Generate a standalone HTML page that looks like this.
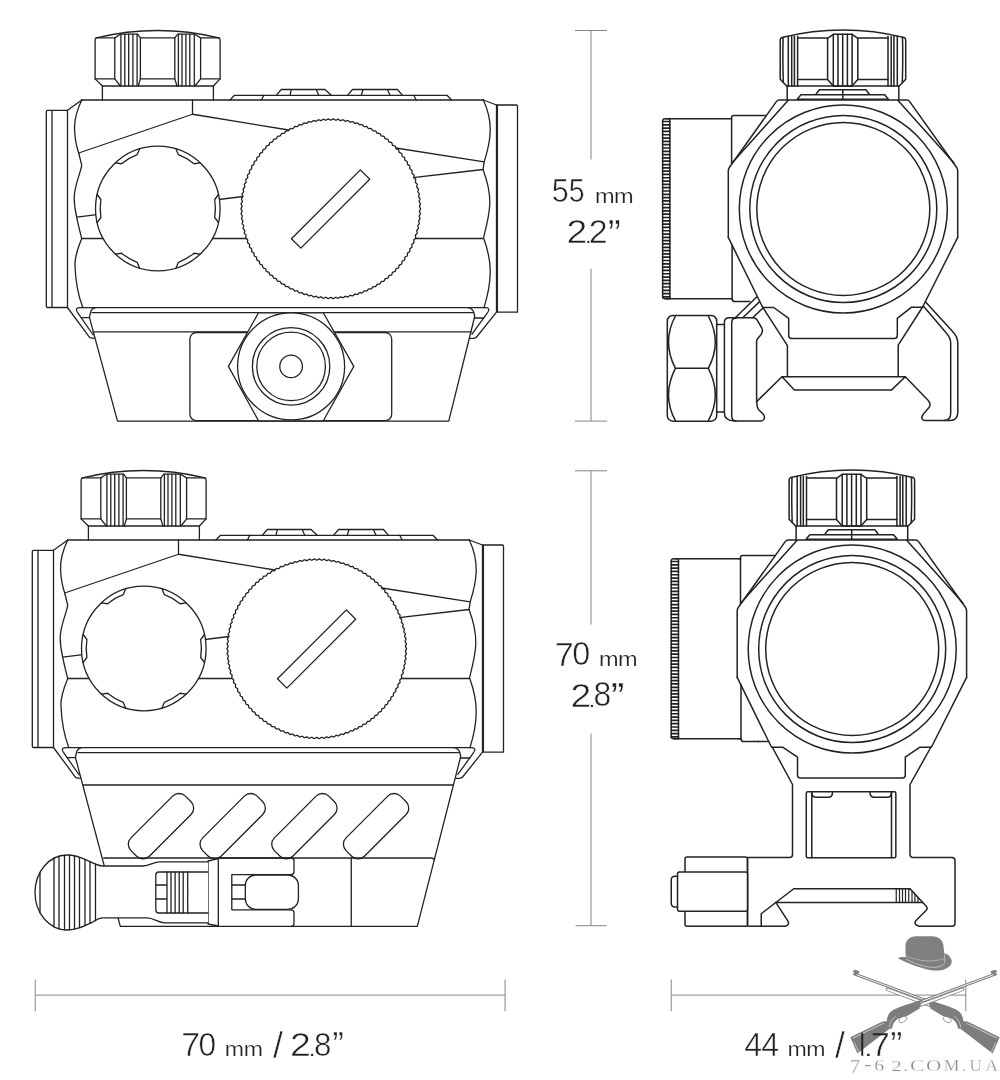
<!DOCTYPE html>
<html><head><meta charset="utf-8"><title>Dimensions</title>
<style>
html,body{margin:0;padding:0;background:#fff;}
body{width:1000px;height:1080px;overflow:hidden;font-family:"Liberation Sans",sans-serif;}
svg{display:block;}
.ln{fill:none;stroke:#222;stroke-width:1.45;stroke-linejoin:round;stroke-linecap:round;}
</style></head><body>
<svg width="1000" height="1080" viewBox="0 0 1000 1080">
<rect width="1000" height="1080" fill="#fff"/>
<defs>
<filter id="gs" x="-5%" y="-5%" width="110%" height="110%" color-interpolation-filters="sRGB"><feColorMatrix type="saturate" values="0"/></filter>
<g id="front">
<path d="M96.3,37.9 Q157.6,23.1 219,37.9"/>
<path d="M96.3,37.9 Q95.1,38.2 95.1,40 V78.9 L102.4,86 H213.4 L220.1,78.9 V40 Q220.1,38.2 219,37.9"/>
<path d="M96.3,37.9 H114.8 L120.3,34.2 H137.6 L140.4,37.9 H174.8 L177.8,34.2 H194.6 L200.6,37.9 H219"/>
<path d="M95.1,78.9 H114.8 L120.3,86 M138.3,86 L140.4,78.9 H174.8 L177,86 M195,86 L200.6,78.9 H220.1"/>
<path d="M114.8,37.9 V78.9 M200.6,37.9 V78.9 M140.4,37.9 V78.9 M174.8,37.9 V78.9"/>
<path d="M120.9,34.2 V86 M124.8,34.2 V86 M128.7,34.2 V86 M132.9,34.2 V86 M137.1,34.2 V86 M178.4,34.2 V86 M182,34.2 V86 M185.9,34.2 V86 M189.8,34.2 V86 M194.3,34.2 V86"/>
<path d="M102.4,86 V100 M213.4,86 V100"/>
<path d="M230,100 L234.5,95.3 H447 L451.5,100"/>
<path d="M261.5,100 L263.75,95.3 M413.75,95.3 L416.25,100"/>
<path d="M276.25,95.3 L281.25,89.5 H325 L331.25,95.3 M290,95.3 L291.25,89.8 M316.25,89.8 L318.75,95.3"/>
<path d="M347.5,95.3 L352.5,89.5 H397.5 L402.5,95.3 M361.25,95.3 L363,89.8 M387.5,89.8 L390,95.3"/>
<path d="M81.75,100 H483.3"/>
<path d="M81.75,100 L67.5,110.3"/>
<path d="M67.5,110.3 H47.5 Q46.3,110.3 46.3,111.5 V306.3 Q46.3,307.5 47.5,307.5 H67.5 V110.3 M52,110.3 V307.5"/>
<path d="M81.75,100 C77,110 74,120 74.6,130 C75,140 77,148 78.7,153 L81.75,165.3 C79.6,176 74.2,186 74.2,198 C74.2,206 75.5,212 76.7,217.2 C78,224 80,232 81.75,238.6 C77,250 74.5,258 75,266 C75.5,280 78,295 82.8,307.6"/>
<path d="M483.3,100 C488,110 490.5,120 490.2,131 C490,142 487,153 484.2,161.8 L483,169.5 C487,180 490,192 489.8,203.3 C489.6,215 486,228 483.5,237.8 C488,250 490.5,262 490.2,273 C490,285 487,298 484,307.6"/>
<path d="M483.3,100 L496.5,105"/>
<path d="M496.5,105 H516.3 Q517.5,105 517.5,106.2 V312.2 H496.5 Z M497.4,105 V312.2"/>
<path d="M82.8,307.6 H484"/>
<path d="M192.5,100 V114.25 L78.7,153 M192.5,114.25 L288.75,130"/>
<path d="M380,145.5 L484.2,161.8 M400,179.2 L483,169.5"/>
<path d="M76.7,217.2 L243,196.5 M81.75,238.5 H483.5"/>
<circle cx="157.8" cy="208.5" r="62.3" fill="#fff"/>
<path d="M218.50,194.49 L214.69,199.49 A57.60,57.60 0 0 1 214.69,217.51 L218.50,222.51"/>
<path d="M200.29,254.06 L194.05,253.26 A57.60,57.60 0 0 1 178.44,262.27 L176.01,268.08"/>
<path d="M139.59,268.08 L137.16,262.27 A57.60,57.60 0 0 1 121.55,253.26 L115.31,254.06"/>
<path d="M97.10,222.51 L100.91,217.51 A57.60,57.60 0 0 1 100.91,199.49 L97.10,194.49"/>
<path d="M115.31,162.94 L121.55,163.74 A57.60,57.60 0 0 1 137.16,154.73 L139.59,148.92"/>
<path d="M176.01,148.92 L178.44,154.73 A57.60,57.60 0 0 1 194.05,163.74 L200.29,162.94"/>
<path d="M420.55,208.75 L420.39,209.37 L419.99,209.98 L419.59,210.59 L419.42,211.19 L419.56,211.81 L419.92,212.44 L420.28,213.07 L420.41,213.70 L420.22,214.30 L419.79,214.89 L419.36,215.48 L419.15,216.07 L419.25,216.70 L419.59,217.35 L419.91,218.00 L420.00,218.63 L419.77,219.22 L419.31,219.79 L418.85,220.35 L418.61,220.93 L418.68,221.56 L418.98,222.23 L419.27,222.89 L419.33,223.53 L419.06,224.11 L418.57,224.65 L418.08,225.18 L417.80,225.75 L417.84,226.39 L418.10,227.07 L418.35,227.75 L418.38,228.39 L418.08,228.95 L417.56,229.47 L417.04,229.97 L416.74,230.52 L416.74,231.16 L416.96,231.85 L417.17,232.55 L417.16,233.18 L416.84,233.73 L416.29,234.22 L415.74,234.69 L415.41,235.23 L415.37,235.86 L415.56,236.56 L415.73,237.27 L415.68,237.91 L415.33,238.44 L414.76,238.89 L414.18,239.33 L413.82,239.85 L413.75,240.48 L413.89,241.19 L414.03,241.91 L413.95,242.54 L413.57,243.05 L412.97,243.47 L412.37,243.88 L411.98,244.38 L411.88,245.00 L411.98,245.72 L412.08,246.45 L411.96,247.07 L411.55,247.56 L410.93,247.95 L410.31,248.33 L409.89,248.80 L409.76,249.42 L409.82,250.14 L409.88,250.87 L409.73,251.49 L409.29,251.96 L408.65,252.31 L408.01,252.65 L407.57,253.10 L407.40,253.71 L407.42,254.44 L407.44,255.16 L407.25,255.78 L406.79,256.22 L406.13,256.53 L405.47,256.84 L405.01,257.26 L404.80,257.86 L404.79,258.59 L404.76,259.32 L404.55,259.92 L404.06,260.33 L403.39,260.61 L402.71,260.88 L402.22,261.28 L401.99,261.87 L401.93,262.59 L401.87,263.32 L401.61,263.91 L401.11,264.29 L400.42,264.53 L399.73,264.77 L399.22,265.14 L398.95,265.71 L398.86,266.43 L398.75,267.15 L398.47,267.73 L397.94,268.08 L397.24,268.29 L396.54,268.48 L396.01,268.82 L395.71,269.38 L395.57,270.10 L395.43,270.81 L395.12,271.37 L394.57,271.70 L393.86,271.86 L393.15,272.02 L392.60,272.33 L392.27,272.87 L392.10,273.57 L391.91,274.28 L391.57,274.82 L391.00,275.12 L390.29,275.24 L389.57,275.36 L389.00,275.64 L388.65,276.16 L388.43,276.86 L388.21,277.55 L387.84,278.07 L387.26,278.33 L386.53,278.42 L385.81,278.50 L385.23,278.75 L384.85,279.25 L384.59,279.93 L384.33,280.61 L383.93,281.11 L383.34,281.34 L382.61,281.39 L381.89,281.42 L381.29,281.64 L380.88,282.12 L380.59,282.79 L380.29,283.45 L379.87,283.93 L379.26,284.13 L378.53,284.13 L377.80,284.13 L377.20,284.32 L376.76,284.77 L376.44,285.42 L376.10,286.07 L375.65,286.52 L375.03,286.69 L374.31,286.65 L373.58,286.61 L372.97,286.76 L372.50,287.19 L372.14,287.82 L371.78,288.45 L371.30,288.87 L370.67,289.01 L369.95,288.93 L369.23,288.85 L368.61,288.97 L368.12,289.37 L367.72,289.98 L367.32,290.59 L366.82,290.99 L366.19,291.09 L365.47,290.97 L364.76,290.85 L364.13,290.93 L363.62,291.31 L363.19,291.89 L362.76,292.48 L362.24,292.85 L361.60,292.91 L360.89,292.76 L360.18,292.60 L359.55,292.64 L359.02,292.99 L358.56,293.56 L358.10,294.12 L357.56,294.46 L356.92,294.48 L356.22,294.29 L355.52,294.09 L354.89,294.10 L354.34,294.42 L353.85,294.96 L353.35,295.49 L352.79,295.80 L352.16,295.80 L351.47,295.56 L350.78,295.32 L350.15,295.30 L349.58,295.59 L349.07,296.10 L348.54,296.61 L347.97,296.88 L347.33,296.84 L346.65,296.57 L345.98,296.30 L345.35,296.24 L344.77,296.50 L344.23,296.98 L343.67,297.45 L343.08,297.70 L342.45,297.62 L341.79,297.31 L341.13,297.00 L340.51,296.91 L339.92,297.14 L339.35,297.59 L338.77,298.03 L338.17,298.24 L337.54,298.13 L336.89,297.79 L336.26,297.44 L335.64,297.32 L335.03,297.51 L334.44,297.92 L333.84,298.34 L333.22,298.52 L332.60,298.37 L331.98,297.99 L331.36,297.61 L330.75,297.45 L330.14,297.61 L329.52,297.99 L328.90,298.37 L328.28,298.52 L327.66,298.34 L327.06,297.92 L326.47,297.51 L325.86,297.32 L325.24,297.44 L324.61,297.79 L323.96,298.13 L323.33,298.24 L322.73,298.03 L322.15,297.59 L321.58,297.14 L320.99,296.91 L320.37,297.00 L319.71,297.31 L319.05,297.62 L318.42,297.70 L317.83,297.45 L317.27,296.98 L316.73,296.50 L316.15,296.24 L315.52,296.30 L314.85,296.57 L314.17,296.84 L313.53,296.88 L312.96,296.61 L312.43,296.10 L311.92,295.59 L311.35,295.30 L310.72,295.32 L310.03,295.56 L309.34,295.80 L308.71,295.80 L308.15,295.49 L307.65,294.96 L307.16,294.42 L306.61,294.10 L305.98,294.09 L305.28,294.29 L304.58,294.48 L303.94,294.46 L303.40,294.12 L302.94,293.56 L302.48,292.99 L301.95,292.64 L301.32,292.60 L300.61,292.76 L299.90,292.91 L299.26,292.85 L298.74,292.48 L298.31,291.89 L297.88,291.31 L297.37,290.93 L296.74,290.85 L296.03,290.97 L295.31,291.09 L294.68,290.99 L294.18,290.59 L293.78,289.98 L293.38,289.37 L292.89,288.97 L292.27,288.85 L291.55,288.93 L290.83,289.01 L290.20,288.87 L289.72,288.45 L289.36,287.82 L289.00,287.19 L288.53,286.76 L287.92,286.61 L287.19,286.65 L286.47,286.69 L285.85,286.52 L285.40,286.07 L285.06,285.42 L284.74,284.77 L284.30,284.32 L283.70,284.13 L282.97,284.13 L282.24,284.13 L281.63,283.93 L281.21,283.45 L280.91,282.79 L280.62,282.12 L280.21,281.64 L279.61,281.42 L278.89,281.39 L278.16,281.34 L277.57,281.11 L277.17,280.61 L276.91,279.93 L276.65,279.25 L276.27,278.75 L275.69,278.50 L274.97,278.42 L274.24,278.33 L273.66,278.07 L273.29,277.55 L273.07,276.86 L272.85,276.16 L272.50,275.64 L271.93,275.36 L271.21,275.24 L270.50,275.12 L269.93,274.82 L269.59,274.28 L269.40,273.57 L269.23,272.87 L268.90,272.33 L268.35,272.02 L267.64,271.86 L266.93,271.70 L266.38,271.37 L266.07,270.81 L265.93,270.10 L265.79,269.38 L265.49,268.82 L264.96,268.48 L264.26,268.29 L263.56,268.08 L263.03,267.73 L262.75,267.15 L262.64,266.43 L262.55,265.71 L262.28,265.14 L261.77,264.77 L261.08,264.53 L260.39,264.29 L259.89,263.91 L259.63,263.32 L259.57,262.59 L259.51,261.87 L259.28,261.28 L258.79,260.88 L258.11,260.61 L257.44,260.33 L256.95,259.92 L256.74,259.32 L256.71,258.59 L256.70,257.86 L256.49,257.26 L256.03,256.84 L255.37,256.53 L254.71,256.22 L254.25,255.78 L254.06,255.16 L254.08,254.44 L254.10,253.71 L253.93,253.10 L253.49,252.65 L252.85,252.31 L252.21,251.96 L251.77,251.49 L251.62,250.87 L251.68,250.14 L251.74,249.42 L251.61,248.80 L251.19,248.33 L250.57,247.95 L249.95,247.56 L249.54,247.07 L249.42,246.45 L249.52,245.72 L249.62,245.00 L249.52,244.38 L249.13,243.88 L248.53,243.47 L247.93,243.05 L247.55,242.54 L247.47,241.91 L247.61,241.19 L247.75,240.48 L247.68,239.85 L247.32,239.33 L246.74,238.89 L246.17,238.44 L245.82,237.91 L245.77,237.27 L245.94,236.56 L246.13,235.86 L246.09,235.23 L245.76,234.69 L245.21,234.22 L244.66,233.73 L244.34,233.18 L244.33,232.55 L244.54,231.85 L244.76,231.16 L244.76,230.52 L244.46,229.97 L243.94,229.47 L243.42,228.95 L243.12,228.39 L243.15,227.75 L243.40,227.07 L243.66,226.39 L243.70,225.75 L243.42,225.18 L242.93,224.65 L242.44,224.11 L242.17,223.53 L242.23,222.89 L242.52,222.23 L242.82,221.56 L242.89,220.93 L242.65,220.35 L242.19,219.79 L241.73,219.22 L241.50,218.63 L241.59,218.00 L241.91,217.35 L242.25,216.70 L242.35,216.07 L242.14,215.48 L241.71,214.89 L241.28,214.30 L241.09,213.70 L241.22,213.07 L241.58,212.44 L241.94,211.81 L242.08,211.19 L241.91,210.59 L241.51,209.98 L241.11,209.37 L240.95,208.75 L241.11,208.13 L241.51,207.52 L241.91,206.91 L242.08,206.31 L241.94,205.69 L241.58,205.06 L241.22,204.43 L241.09,203.80 L241.28,203.20 L241.71,202.61 L242.14,202.02 L242.35,201.43 L242.25,200.80 L241.91,200.15 L241.59,199.50 L241.50,198.87 L241.73,198.28 L242.19,197.71 L242.65,197.15 L242.89,196.57 L242.82,195.94 L242.52,195.27 L242.23,194.61 L242.17,193.97 L242.44,193.39 L242.93,192.85 L243.42,192.32 L243.70,191.75 L243.66,191.11 L243.40,190.43 L243.15,189.75 L243.12,189.11 L243.42,188.55 L243.94,188.03 L244.46,187.53 L244.76,186.98 L244.76,186.34 L244.54,185.65 L244.33,184.95 L244.34,184.32 L244.66,183.77 L245.21,183.28 L245.76,182.81 L246.09,182.27 L246.13,181.64 L245.94,180.94 L245.77,180.23 L245.82,179.59 L246.17,179.06 L246.74,178.61 L247.32,178.17 L247.68,177.65 L247.75,177.02 L247.61,176.31 L247.47,175.59 L247.55,174.96 L247.93,174.45 L248.53,174.03 L249.13,173.62 L249.52,173.12 L249.62,172.50 L249.52,171.78 L249.42,171.05 L249.54,170.43 L249.95,169.94 L250.57,169.55 L251.19,169.17 L251.61,168.70 L251.74,168.08 L251.68,167.36 L251.62,166.63 L251.77,166.01 L252.21,165.54 L252.85,165.19 L253.49,164.85 L253.93,164.40 L254.10,163.79 L254.08,163.06 L254.06,162.34 L254.25,161.72 L254.71,161.28 L255.37,160.97 L256.03,160.66 L256.49,160.24 L256.70,159.64 L256.71,158.91 L256.74,158.18 L256.95,157.58 L257.44,157.17 L258.11,156.89 L258.79,156.62 L259.28,156.22 L259.51,155.63 L259.57,154.91 L259.63,154.18 L259.89,153.59 L260.39,153.21 L261.08,152.97 L261.77,152.73 L262.28,152.36 L262.55,151.79 L262.64,151.07 L262.75,150.35 L263.03,149.77 L263.56,149.42 L264.26,149.21 L264.96,149.02 L265.49,148.68 L265.79,148.12 L265.93,147.40 L266.07,146.69 L266.38,146.13 L266.93,145.80 L267.64,145.64 L268.35,145.48 L268.90,145.17 L269.23,144.63 L269.40,143.93 L269.59,143.22 L269.93,142.68 L270.50,142.38 L271.21,142.26 L271.93,142.14 L272.50,141.86 L272.85,141.34 L273.07,140.64 L273.29,139.95 L273.66,139.43 L274.24,139.17 L274.97,139.08 L275.69,139.00 L276.27,138.75 L276.65,138.25 L276.91,137.57 L277.17,136.89 L277.57,136.39 L278.16,136.16 L278.89,136.11 L279.61,136.08 L280.21,135.86 L280.62,135.38 L280.91,134.71 L281.21,134.05 L281.63,133.57 L282.24,133.37 L282.97,133.37 L283.70,133.37 L284.30,133.18 L284.74,132.73 L285.06,132.08 L285.40,131.43 L285.85,130.98 L286.47,130.81 L287.19,130.85 L287.92,130.89 L288.53,130.74 L289.00,130.31 L289.36,129.68 L289.72,129.05 L290.20,128.63 L290.83,128.49 L291.55,128.57 L292.27,128.65 L292.89,128.53 L293.38,128.13 L293.78,127.52 L294.18,126.91 L294.68,126.51 L295.31,126.41 L296.03,126.53 L296.74,126.65 L297.37,126.57 L297.88,126.19 L298.31,125.61 L298.74,125.02 L299.26,124.65 L299.90,124.59 L300.61,124.74 L301.32,124.90 L301.95,124.86 L302.48,124.51 L302.94,123.94 L303.40,123.38 L303.94,123.04 L304.58,123.02 L305.28,123.21 L305.98,123.41 L306.61,123.40 L307.16,123.08 L307.65,122.54 L308.15,122.01 L308.71,121.70 L309.34,121.70 L310.03,121.94 L310.72,122.18 L311.35,122.20 L311.92,121.91 L312.43,121.40 L312.96,120.89 L313.53,120.62 L314.17,120.66 L314.85,120.93 L315.52,121.20 L316.15,121.26 L316.73,121.00 L317.27,120.52 L317.83,120.05 L318.42,119.80 L319.05,119.88 L319.71,120.19 L320.37,120.50 L320.99,120.59 L321.58,120.36 L322.15,119.91 L322.73,119.47 L323.33,119.26 L323.96,119.37 L324.61,119.71 L325.24,120.06 L325.86,120.18 L326.47,119.99 L327.06,119.58 L327.66,119.16 L328.28,118.98 L328.90,119.13 L329.52,119.51 L330.14,119.89 L330.75,120.05 L331.36,119.89 L331.98,119.51 L332.60,119.13 L333.22,118.98 L333.84,119.16 L334.44,119.58 L335.03,119.99 L335.64,120.18 L336.26,120.06 L336.89,119.71 L337.54,119.37 L338.17,119.26 L338.77,119.47 L339.35,119.91 L339.92,120.36 L340.51,120.59 L341.13,120.50 L341.79,120.19 L342.45,119.88 L343.08,119.80 L343.67,120.05 L344.23,120.52 L344.77,121.00 L345.35,121.26 L345.98,121.20 L346.65,120.93 L347.33,120.66 L347.97,120.62 L348.54,120.89 L349.07,121.40 L349.58,121.91 L350.15,122.20 L350.78,122.18 L351.47,121.94 L352.16,121.70 L352.79,121.70 L353.35,122.01 L353.85,122.54 L354.34,123.08 L354.89,123.40 L355.52,123.41 L356.22,123.21 L356.92,123.02 L357.56,123.04 L358.10,123.38 L358.56,123.94 L359.02,124.51 L359.55,124.86 L360.18,124.90 L360.89,124.74 L361.60,124.59 L362.24,124.65 L362.76,125.02 L363.19,125.61 L363.62,126.19 L364.13,126.57 L364.76,126.65 L365.47,126.53 L366.19,126.41 L366.82,126.51 L367.32,126.91 L367.72,127.52 L368.12,128.13 L368.61,128.53 L369.23,128.65 L369.95,128.57 L370.67,128.49 L371.30,128.63 L371.78,129.05 L372.14,129.68 L372.50,130.31 L372.97,130.74 L373.58,130.89 L374.31,130.85 L375.03,130.81 L375.65,130.98 L376.10,131.43 L376.44,132.08 L376.76,132.73 L377.20,133.18 L377.80,133.37 L378.53,133.37 L379.26,133.37 L379.87,133.57 L380.29,134.05 L380.59,134.71 L380.88,135.38 L381.29,135.86 L381.89,136.08 L382.61,136.11 L383.34,136.16 L383.93,136.39 L384.33,136.89 L384.59,137.57 L384.85,138.25 L385.23,138.75 L385.81,139.00 L386.53,139.08 L387.26,139.17 L387.84,139.43 L388.21,139.95 L388.43,140.64 L388.65,141.34 L389.00,141.86 L389.57,142.14 L390.29,142.26 L391.00,142.38 L391.57,142.68 L391.91,143.22 L392.10,143.93 L392.27,144.63 L392.60,145.17 L393.15,145.48 L393.86,145.64 L394.57,145.80 L395.12,146.13 L395.43,146.69 L395.57,147.40 L395.71,148.12 L396.01,148.68 L396.54,149.02 L397.24,149.21 L397.94,149.42 L398.47,149.77 L398.75,150.35 L398.86,151.07 L398.95,151.79 L399.22,152.36 L399.73,152.73 L400.42,152.97 L401.11,153.21 L401.61,153.59 L401.87,154.18 L401.93,154.91 L401.99,155.63 L402.22,156.22 L402.71,156.62 L403.39,156.89 L404.06,157.17 L404.55,157.58 L404.76,158.18 L404.79,158.91 L404.80,159.64 L405.01,160.24 L405.47,160.66 L406.13,160.97 L406.79,161.28 L407.25,161.72 L407.44,162.34 L407.42,163.06 L407.40,163.79 L407.57,164.40 L408.01,164.85 L408.65,165.19 L409.29,165.54 L409.73,166.01 L409.88,166.63 L409.82,167.36 L409.76,168.08 L409.89,168.70 L410.31,169.17 L410.93,169.55 L411.55,169.94 L411.96,170.43 L412.08,171.05 L411.98,171.78 L411.88,172.50 L411.98,173.12 L412.37,173.62 L412.97,174.03 L413.57,174.45 L413.95,174.96 L414.03,175.59 L413.89,176.31 L413.75,177.02 L413.82,177.65 L414.18,178.17 L414.76,178.61 L415.33,179.06 L415.68,179.59 L415.73,180.23 L415.56,180.94 L415.37,181.64 L415.41,182.27 L415.74,182.81 L416.29,183.28 L416.84,183.77 L417.16,184.32 L417.17,184.95 L416.96,185.65 L416.74,186.34 L416.74,186.98 L417.04,187.53 L417.56,188.03 L418.08,188.55 L418.38,189.11 L418.35,189.75 L418.10,190.43 L417.84,191.11 L417.80,191.75 L418.08,192.32 L418.57,192.85 L419.06,193.39 L419.33,193.97 L419.27,194.61 L418.98,195.27 L418.68,195.94 L418.61,196.57 L418.85,197.15 L419.31,197.71 L419.77,198.28 L420.00,198.87 L419.91,199.50 L419.59,200.15 L419.25,200.80 L419.15,201.43 L419.36,202.02 L419.79,202.61 L420.22,203.20 L420.41,203.80 L420.28,204.43 L419.92,205.06 L419.56,205.69 L419.42,206.31 L419.59,206.91 L419.99,207.52 L420.39,208.13 L420.55,208.75Z" fill="#fff"/>
<rect x="-48.7" y="-6.65" width="97.4" height="13.3" transform="translate(330.6,209) rotate(-45)"/>
</g>
<g id="clamps">
<path d="M67.5,307.5 L89,336.6 Q90,338.2 92,338.2 H94.5"/>
<path d="M82.8,307.6 H80 Q75.6,307.6 76.6,310.6 Q77,311.8 78,313.2 L93.2,335"/>
<path d="M81.3,317.6 H89.5"/>
<path d="M496.5,312.2 L477,336.5 Q475.6,338.4 473.5,338.4 H470.3"/>
<path d="M484,307.6 H485.5 Q489.6,307.6 488.6,310.6 Q488.2,311.8 487.2,313.2 L472,334.2"/>
<path d="M474.6,318 H483.6"/>
</g>
<g id="side">
<path d="M728.3,237.4 V171 Q728.3,169 729.5,167.3 L776.3,101.6 Q777.4,100 779.4,100 H906.6 Q908.6,100 909.7,101.6 L956.5,167.3 Q957.7,169 957.7,171 V237.4"/>
<path d="M728.3,237.4 L762.5,307 M957.7,237.4 L922.6,307"/>
<path d="M788,100.4 L732,163.1 M898,100.4 L954,163.1"/>
<path d="M731.6,163.5 V117.4 Q731.6,115.4 733.6,115.4 H766.2"/>
<path d="M732.1,244.8 V298.7 Q732.1,301.6 735,301.6 H749.7"/>
<circle cx="843.3" cy="209" r="104"/>
<circle cx="843.3" cy="209" r="93.5"/>
<circle cx="843.3" cy="209" r="86.5"/>
<path d="M782,37.5 Q843,22.7 904,37.5"/>
<path d="M782,37.5 Q780.2,38 780.2,40 V79.3 L786.7,86 H899.3 L905.7,79.3 V40 Q905.7,38 904,37.5"/>
<path d="M783.1,37.6 Q782.5,58 783.3,82.6 M902.5,37.6 Q903.1,58 902.3,82.6"/>
<path d="M788.3,36.2 V86 M791.7,36.2 V86 M794.4,36.2 V86 M797.6,36.2 V86 M888,36.2 V86 M891.2,36.2 V86 M893.9,36.2 V86 M897.3,36.2 V86"/>
<path d="M797.6,38 H827.6 M797.6,79.4 H827.6 M857.8,38 H888 M857.8,79.4 H888"/>
<path d="M827.6,38.3 L833.3,34.3 H852.1 L857.8,38.3 V79.4 L852.1,85.9 H833.3 L827.6,79.4 Z"/>
<path d="M833.3,34.3 V85.9 M838,34.3 V85.9 M842.7,34.3 V85.9 M847.4,34.3 V85.9 M852.1,34.3 V85.9"/>
<path d="M787.2,86 V100 M898.8,86 V100"/>
<path d="M797.2,99.2 L800.9,94.7 H884.7 L888.4,99.2 Z M815.6,94.7 L819.4,89.8 H866 L869.6,94.7 M842.8,89.8 V99.6"/>
</g>
<g id="cyl">
<path d="M666,118.8 H731.6 M666,298.7 H732.1" stroke-width="1.5"/>
<path d="M669.85,118.8 H665 Q662.65,118.8 662.65,121 V296.5 Q662.65,298.7 665,298.7 H669.85 Z"/>
<path d="M662.65,121.50 H669.85 M662.65,124.81 H669.85 M662.65,128.12 H669.85 M662.65,131.43 H669.85 M662.65,134.74 H669.85 M662.65,138.05 H669.85 M662.65,141.36 H669.85 M662.65,144.67 H669.85 M662.65,147.98 H669.85 M662.65,151.29 H669.85 M662.65,154.60 H669.85 M662.65,157.91 H669.85 M662.65,161.22 H669.85 M662.65,164.53 H669.85 M662.65,167.84 H669.85 M662.65,171.15 H669.85 M662.65,174.46 H669.85 M662.65,177.77 H669.85 M662.65,181.08 H669.85 M662.65,184.39 H669.85 M662.65,187.70 H669.85 M662.65,191.01 H669.85 M662.65,194.32 H669.85 M662.65,197.63 H669.85 M662.65,200.94 H669.85 M662.65,204.25 H669.85 M662.65,207.56 H669.85 M662.65,210.87 H669.85 M662.65,214.18 H669.85 M662.65,217.49 H669.85 M662.65,220.80 H669.85 M662.65,224.11 H669.85 M662.65,227.42 H669.85 M662.65,230.73 H669.85 M662.65,234.04 H669.85 M662.65,237.35 H669.85 M662.65,240.66 H669.85 M662.65,243.97 H669.85 M662.65,247.28 H669.85 M662.65,250.59 H669.85 M662.65,253.90 H669.85 M662.65,257.21 H669.85 M662.65,260.52 H669.85 M662.65,263.83 H669.85 M662.65,267.14 H669.85 M662.65,270.45 H669.85 M662.65,273.76 H669.85 M662.65,277.07 H669.85 M662.65,280.38 H669.85 M662.65,283.69 H669.85 M662.65,287.00 H669.85 M662.65,290.31 H669.85 M662.65,293.62 H669.85 M662.65,296.93 H669.85" stroke-width="1.7"/>
</g>
</defs>
<g stroke="#868686" stroke-width="1" fill="none">
<path d="M575,30.5 H607 M591,30.5 V159.5 M591,268.7 V421 M575,421.1 H607.2"/>
<path d="M575,470.8 H607 M591,470.8 V624.5 M591,733.7 V925.7 M575.5,925.7 H606.8"/>
<path d="M35.2,995.1 H505.1 M35.2,979.5 V1011.3 M505.1,979.5 V1011.3"/>
<path d="M671.2,995.1 H965.8 M671.2,979.5 V1011.3 M965.8,979.5 V1011.3"/>
</g>
<g class="ln" stroke-width="1.3" style="stroke-width:1.3">
<use href="#front"/>
<path d="M67.5,307.5 L89,336.6 Q90,338.2 92,338.2 H94.5"/>
<path d="M82.8,307.6 H80 Q75.6,307.6 76.6,310.6 Q77,311.8 78,313.2 L93.2,335"/>
<path d="M81.3,317.6 H89.5"/>
<path d="M496.5,312.2 L477,336.5 Q475.6,338.4 473.5,338.4 H470.3"/>
<path d="M484,307.6 H485.5 Q489.6,307.6 488.6,310.6 Q488.2,311.8 487.2,313.2 L472,334.2"/>
<path d="M474.6,318 H483.6"/>
<path d="M95.5,307.6 Q91,308.5 90.3,313.5 L89.4,317.3 L117.5,421.2 H448.75 L474.7,316.5 L474,313 Q473,308.5 468,307.6"/>
<path d="M92,312.6 H473"/>
<path d="M93.3,331.8 H471"/>
<rect x="189.9" y="332.5" width="201.8" height="88.2" rx="6.5" fill="#fff"/>
<path d="M228.4,366.4 L258.5,312.8 H323.3 L353.8,366.4 L323.3,420.8 H258.5 Z" fill="#fff"/>
<circle cx="291.1" cy="366.4" r="53.5" fill="#fff"/>
<circle cx="291.1" cy="366.4" r="38.7" fill="#fff"/>
<circle cx="291.1" cy="366.4" r="34.3" fill="#fff"/>
<circle cx="291.1" cy="366.4" r="11.3" fill="#fff"/>
<use href="#front" transform="translate(-14,440)"/>
<use href="#clamps" transform="translate(-14,440)"/>
<path d="M81.5,747.6 Q77,748.5 76.3,753.5 L75.4,757.3 L120.3,926.4 H417.3 L460.7,756.5 L460,753 Q459,748.5 454,747.6"/>
<path d="M78,752.6 H459 M83,785 H453.5"/>
<path d="M103.75,858 H431 Q433.5,858 434.6,860"/>
<rect x="-38.5" y="-13" width="77" height="26" rx="9" transform="translate(161,826.2) rotate(-45)"/>
<rect x="-38.5" y="-13" width="77" height="26" rx="9" transform="translate(232.7,826.2) rotate(-45)"/>
<rect x="-38.5" y="-13" width="77" height="26" rx="9" transform="translate(304.4,826.2) rotate(-45)"/>
<rect x="-38.5" y="-13" width="77" height="26" rx="9" transform="translate(376.1,826.2) rotate(-45)"/>
<path d="M351.25,858 V926.4 M218.3,858 V926.4 M208,861 V924 M208,861 L218.3,858.6 M208,924 L218.3,926"/>
<path d="M218.3,858 H291 Q294,858 294,861 V871.5 Q294,874.6 291,874.6 H231.8 V909.8 H291 Q294,909.8 294,912.8 V923.4 Q294,926.4 291,926.4"/>
<rect x="245.3" y="875" width="53.1" height="34.3" rx="10.5" fill="#fff"/>
<path d="M231.8,885 H245.6 M231.8,899 H245.6"/>
<path d="M208,861.8 H160 C153,861.8 150,866 143,866 H102 C97,865.5 94,863.4 90,861.6 C84,859 78,855 67,855 A32,37.5 0 0 0 67,930 C78,930 84,926 90,923.4 C94,921.6 97,918.3 102,917.8 H147 C154,917.8 158,922.8 165,922.8 H208" fill="#fff"/>
<path d="M40,872.37 V912.63 M54,858.23 V926.77 M59,856.19 V928.81 M64.5,855.11 V929.89 M69.5,855.10 V929.90 M74.5,855.90 V929.10 M79.5,857.40 V927.60 M85,859.40 V925.60 M90,861.60 V923.40 M95.5,864.20 V920.80"/>
<path d="M208,872 H158.8 Q155.8,872 155.8,875 V910 Q155.8,913 158.8,913 H208"/>
<path d="M167,872 V913 M171,872 V913 M175.1,872 V913 M179.2,872 V913 M183.2,872 V913 M187.7,872 V913 M155.8,885 H167 M155.8,899 H167"/>
</g>
<g class="ln" style="stroke-width:1.5">
<use href="#cyl"/>
<use href="#side"/>
<path d="M762.5,307 L787.4,345.6 V376.6 M922.6,307 L898.2,345.2 V376.6"/>
<path d="M762.8,307.5 H773.7 L788.7,318.4 V335.5 Q788.7,338.5 791.7,338.5 H894.3 Q897.3,338.5 897.3,335.5 V318.4 L911.3,307.3 H922.4"/>
<path d="M782,376.8 H905.3 M794.4,389.9 H891.7 M782,376.8 L794.4,389.9 M905.3,376.8 L891.7,389.9"/>
<path d="M782,376.8 L756.6,401.6"/>
<path d="M734.5,420.9 Q724.4,420.9 724.4,413 V322.5 Q724.4,317.7 729.2,317.7 H753.2 Q755.5,317.7 757,319.8 L761.8,328 Q763.3,331 761.3,334.2 L757.2,339.2 Q756.6,340 756.6,341.5 V401.6 L757.4,407 Q757.8,408.6 759,410 L763.5,414.6 Q765.2,417 763.8,419.5 Q763,420.9 761,420.9 H734.5"/>
<path d="M736,420.9 Q731.7,420.9 731.7,416 V322.5 Q731.7,317.9 736.2,317.9"/>
<path d="M735.3,317.7 L756.9,296.7 M742.8,317.7 L759.6,301.6 M752.6,317.7 L763,308"/>
<path d="M925.4,301.7 L952.6,331.5 Q957.8,337 957.8,343 V411.9 Q957.8,420.4 950,420.4"/>
<path d="M923.5,306.2 L946.1,332.8 Q950.7,338 950.7,343 V413.2 Q950.7,420.4 944,420.4"/>
<path d="M905.3,376.8 L928,400.2 Q931.5,404 929,407.5 L923,414.5 Q920.5,418 923,420 Q923.5,420.4 926,420.4 H950"/>
<rect x="667.3" y="315.5" width="49.4" height="105.7" rx="5.5"/>
<path d="M675.4,368.3 H708.3 M675.4,316 Q661.6,342 675.4,368.3 Q661.6,395 675.4,420.7 M708.3,316 Q722.3,342 708.3,368.3 Q722.3,395 708.3,420.7"/>
<path d="M716.7,324.6 H724.4 M716.7,412.1 H724.4"/>
<use href="#cyl" transform="translate(8.6,440)"/>
<path d="M739,558.8 H740.6 M739,738.7 H741"/>
<use href="#side" transform="translate(8.9,440)"/>
<path d="M772.2,747 L792.5,784.5 V854.5 Q792.5,857.5 789.5,857.5 H747.5 V926.25 H785.5 Q790,924.5 787.8,920.8 L776.3,903.2"/>
<path d="M772.4,747.3 H783 L797.5,757.2 V775 Q797.5,778 800.5,778 H902.3 Q905.3,778 905.3,775 V757.2 L919.5,747.3 H930.8"/>
<path d="M931,747 L910,784.5 V854.5 Q910,857.5 913,857.5 H952 Q955,857.5 955,860.5 V923.5 Q955,926.25 952,926.25 H919 Q913,924.5 916,920.5 L926.3,910.3 Q928,908.3 926.25,906.25 L910,888.75"/>
<path d="M793.75,888.75 H910 M775,902.5 H922.8 M793.75,888.75 L761.25,913.75 V926.25"/>
<rect x="806.25" y="791.8" width="89.6" height="66" rx="1.5"/>
<path d="M811.8,791.8 V857.8 M891.5,791.8 V857.8"/>
<path d="M811.8,792.4 Q811.8,797.2 816.3,797.2 H828 Q832.5,797.2 832.5,792.4 M870,792.4 Q870,797.2 874.5,797.2 H887 Q891.5,797.2 891.5,792.4"/>
<path d="M896.25,888.75 V902.5 M899.5,888.75 V902.5 M902.5,888.75 V902.5 M905.5,888.75 V902.5 M908.75,888.75 V902.5 M912,890.90 V902.5 M915,894.13 V902.5 M918,897.37 V902.5" stroke-width="1.2"/>
<rect x="685" y="857" width="62.5" height="69.25" rx="2"/>
<rect x="677.5" y="872" width="70" height="39.25" rx="2" fill="#fff"/>
<path d="M677.5,876.25 H675 Q671.25,876.25 671.25,880 V903 Q671.25,907 675,907 H677.5"/>
<path d="M758,741.6 H768.6"/>
</g>
<g id="logo">
<path fill="#808080" d="M898.1,958.5 C899.5,957 902,956.8 905.7,957.3 L905.4,946.5 C905.4,940 910,936.2 916,936.2 L932,936.2 C939,936.2 943.5,940.5 943.6,947 L944.3,953.4 C947.5,953.5 950.5,956.5 951.5,960 C952.5,964 950,967 945,969 C941,970.8 936,971 930,970 C920,968 908,963.5 898.1,958.5 Z"/>
<path d="M905.8,956.2 C915,960 925,961.2 932,960.8 C938,960.4 942,959.5 944.2,958.4" stroke="#c8c8c8" stroke-width="0.6" fill="none"/>
<path d="M906,959.2 C915,964 926,967.3 934,967.4 C940,967.4 944.8,965 944.9,961 L944.5,954.5" stroke="#d4d4d4" stroke-width="0.7" fill="none"/>
<g transform="translate(1850,0) scale(-1,1)">
<path d="M996.5,973.6 L921,1001.7" stroke="#7d7d7d" stroke-width="2.9" fill="none"/>
<path d="M993.5,974.7 L922,1001.3" stroke="#fff" stroke-width="0.9" fill="none"/>
<path d="M962.8,989.3 L920.5,1005.1" stroke="#7d7d7d" stroke-width="3.3" stroke-linecap="round" fill="none"/>
<path d="M962.6,989.4 L921.5,1004.7" stroke="#fff" stroke-width="1.9" stroke-linecap="round" fill="none"/>
<path d="M997.6,971.4 l-2.6,-1.6 l-4.4,1.5 l0.6,2.2 l1.6,0.5 z" fill="#7d7d7d"/>
<ellipse cx="902.8" cy="1019.4" rx="4.4" ry="2.6" transform="rotate(-30 902.8 1019.4)" fill="#fff" stroke="#7d7d7d" stroke-width="0.7"/>
<path d="M921,1000 L901,1006.6 L893.5,1009.8 Q888.2,1012.6 887,1019 L885.2,1029.4 L892,1028.4 Q892.8,1022.2 897.8,1018.8 L908,1015.4 L919.6,1008.6 Z" fill="#7d7d7d"/>
<path d="M886.8,1021.2 L882.6,1021.4 L850.3,1037.2 L857.4,1053.6 L891.2,1027.4 Z" fill="#7d7d7d"/>
<path d="M852.6,1038.3 L883.6,1023.2" stroke="#ececec" stroke-width="0.7" fill="none"/>
<path d="M854.4,1042.5 L858.6,1052" stroke="#ececec" stroke-width="0.6" fill="none"/>
<path d="M889.3,1027.6 Q890,1020 895.6,1016.4" stroke="#ececec" stroke-width="0.6" fill="none"/>
</g>
<g>
<path d="M996.5,973.6 L921,1001.7" stroke="#7d7d7d" stroke-width="2.9" fill="none"/>
<path d="M993.5,974.7 L922,1001.3" stroke="#fff" stroke-width="0.9" fill="none"/>
<path d="M962.8,989.3 L920.5,1005.1" stroke="#7d7d7d" stroke-width="3.3" stroke-linecap="round" fill="none"/>
<path d="M962.6,989.4 L921.5,1004.7" stroke="#fff" stroke-width="1.9" stroke-linecap="round" fill="none"/>
<path d="M997.6,971.4 l-2.6,-1.6 l-4.4,1.5 l0.6,2.2 l1.6,0.5 z" fill="#7d7d7d"/>
<ellipse cx="902.8" cy="1019.4" rx="4.4" ry="2.6" transform="rotate(-30 902.8 1019.4)" fill="#fff" stroke="#7d7d7d" stroke-width="0.7"/>
<path d="M921,1000 L901,1006.6 L893.5,1009.8 Q888.2,1012.6 887,1019 L885.2,1029.4 L892,1028.4 Q892.8,1022.2 897.8,1018.8 L908,1015.4 L919.6,1008.6 Z" fill="#7d7d7d"/>
<path d="M886.8,1021.2 L882.6,1021.4 L850.3,1037.2 L857.4,1053.6 L891.2,1027.4 Z" fill="#7d7d7d"/>
<path d="M852.6,1038.3 L883.6,1023.2" stroke="#ececec" stroke-width="0.7" fill="none"/>
<path d="M854.4,1042.5 L858.6,1052" stroke="#ececec" stroke-width="0.6" fill="none"/>
<path d="M889.3,1027.6 Q890,1020 895.6,1016.4" stroke="#ececec" stroke-width="0.6" fill="none"/>
</g>
<g font-family="'Liberation Serif', serif" font-size="100" fill="#8a8a8a" filter="url(#gs)">
<g stroke="#fff" stroke-width="0.3" style="paint-order:fill stroke">
<text vector-effect="non-scaling-stroke" transform="translate(849.82,1072.50) scale(0.2097,0.1787)">7</text>
<text vector-effect="non-scaling-stroke" transform="translate(864.31,1070.18) scale(0.2117,0.1606)">-</text>
<text vector-effect="non-scaling-stroke" transform="translate(874.35,1070.83) scale(0.1989,0.1697)">6</text>
<text vector-effect="non-scaling-stroke" transform="translate(891.37,1070.90) scale(0.2120,0.1405)">2</text>
<text vector-effect="non-scaling-stroke" transform="translate(903.58,1070.76) scale(0.1693,0.1693)">.</text>
<text vector-effect="non-scaling-stroke" transform="translate(910.01,1070.84) scale(0.2172,0.1622)">C</text>
<text vector-effect="non-scaling-stroke" transform="translate(925.94,1070.84) scale(0.2109,0.1622)">O</text>
<text vector-effect="non-scaling-stroke" transform="translate(943.69,1070.90) scale(0.1769,0.1619)">M</text>
<text vector-effect="non-scaling-stroke" transform="translate(961.74,1070.76) scale(0.1608,0.1693)">.</text>
<text vector-effect="non-scaling-stroke" transform="translate(969.44,1070.84) scale(0.1705,0.1610)">U</text>
<text vector-effect="non-scaling-stroke" transform="translate(985.13,1070.90) scale(0.1759,0.1621)">A</text>
</g>
</g>
</g>
<g font-family="'Liberation Sans', sans-serif" font-size="100" fill="#222" opacity="0.999">
<g stroke="#fff" stroke-width="0.55" style="paint-order:fill stroke">
<text vector-effect="non-scaling-stroke" transform="translate(551.78,202.38) scale(0.3058,0.3325)">5</text>
<text vector-effect="non-scaling-stroke" transform="translate(568.86,202.38) scale(0.2847,0.3325)">5</text>
<text vector-effect="non-scaling-stroke" transform="translate(566.62,243.00) scale(0.3732,0.3294)">2</text>

<text vector-effect="non-scaling-stroke" transform="translate(588.79,243.00) scale(0.3402,0.3294)">2</text>
<text vector-effect="non-scaling-stroke" transform="translate(606.47,247.75) scale(0.4076,0.4033)">’</text>
<text vector-effect="non-scaling-stroke" transform="translate(612.97,247.75) scale(0.4076,0.4033)">’</text>
<text vector-effect="non-scaling-stroke" transform="translate(554.75,665.50) scale(0.3410,0.3343)">7</text>
<text vector-effect="non-scaling-stroke" transform="translate(572.23,665.47) scale(0.3242,0.3362)">0</text>
<text vector-effect="non-scaling-stroke" transform="translate(570.62,706.50) scale(0.3732,0.3366)">2</text>

<text vector-effect="non-scaling-stroke" transform="translate(593.61,706.46) scale(0.3197,0.3432)">8</text>
<text vector-effect="non-scaling-stroke" transform="translate(609.16,710.75) scale(0.4585,0.4033)">’</text>
<text vector-effect="non-scaling-stroke" transform="translate(615.66,710.75) scale(0.4585,0.4033)">’</text>
<text vector-effect="non-scaling-stroke" transform="translate(181.37,1056.20) scale(0.3366,0.3372)">7</text>
<text vector-effect="non-scaling-stroke" transform="translate(198.56,1056.17) scale(0.3180,0.3376)">0</text>
<text vector-effect="non-scaling-stroke" transform="translate(273.10,1058.33) scale(0.3563,0.3745)">/</text>
<text vector-effect="non-scaling-stroke" transform="translate(290.11,1056.20) scale(0.3754,0.3323)">2</text>

<text vector-effect="non-scaling-stroke" transform="translate(314.04,1056.17) scale(0.3133,0.3376)">8</text>
<text vector-effect="non-scaling-stroke" transform="translate(331.13,1058.28) scale(0.3668,0.3675)">’</text>
<text vector-effect="non-scaling-stroke" transform="translate(336.83,1058.28) scale(0.3668,0.3675)">’</text>
<text vector-effect="non-scaling-stroke" transform="translate(744.16,1056.20) scale(0.3215,0.3372)">4</text>
<text vector-effect="non-scaling-stroke" transform="translate(761.26,1056.20) scale(0.3215,0.3372)">4</text>
<text vector-effect="non-scaling-stroke" transform="translate(834.90,1058.33) scale(0.3563,0.3745)">/</text>
<text vector-effect="non-scaling-stroke" transform="translate(889.33,1058.28) scale(0.3668,0.3675)">’</text>
<text vector-effect="non-scaling-stroke" transform="translate(895.13,1058.28) scale(0.3668,0.3675)">’</text>
</g>
<g stroke="#fff" stroke-width="0.2" style="paint-order:fill stroke">
<text vector-effect="non-scaling-stroke" transform="translate(594.94,202.50) scale(0.2355,0.2044)">m</text>
<text vector-effect="non-scaling-stroke" transform="translate(613.94,202.50) scale(0.2355,0.2044)">m</text>
<text vector-effect="non-scaling-stroke" transform="translate(598.94,665.50) scale(0.2355,0.1989)">m</text>
<text vector-effect="non-scaling-stroke" transform="translate(617.94,665.50) scale(0.2355,0.1989)">m</text>
<text vector-effect="non-scaling-stroke" transform="translate(224.76,1056.20) scale(0.2312,0.2026)">m</text>
<text vector-effect="non-scaling-stroke" transform="translate(243.66,1056.20) scale(0.2312,0.2026)">m</text>
<text vector-effect="non-scaling-stroke" transform="translate(787.46,1056.20) scale(0.2312,0.2026)">m</text>
<text vector-effect="non-scaling-stroke" transform="translate(806.36,1056.20) scale(0.2312,0.2026)">m</text>
<text vector-effect="non-scaling-stroke" transform="translate(584.89,243.00) scale(0.2311,0.2057)">.</text>
<text vector-effect="non-scaling-stroke" transform="translate(588.69,706.50) scale(0.2311,0.2057)">.</text>
<text vector-effect="non-scaling-stroke" transform="translate(308.69,1056.20) scale(0.2416,0.2057)">.</text>
</g>
<mask id="mk17" maskUnits="userSpaceOnUse" x="855" y="1025" width="40" height="40"><g fill="#fff" stroke="#000" stroke-width="0.55" style="paint-order:fill stroke"><text vector-effect="non-scaling-stroke" transform="translate(858.72,1056.20) scale(0.2466,0.3372)">I</text><text vector-effect="non-scaling-stroke" transform="translate(870.97,1056.20) scale(0.3366,0.3372)">7</text></g><g fill="#fff"><text vector-effect="non-scaling-stroke" transform="translate(865.09,1056.20) scale(0.2416,0.2057)">.</text></g></mask>
<rect x="855" y="1025" width="40" height="40" fill="#222" mask="url(#mk17)"/>
</g>
</svg>
</body></html>
